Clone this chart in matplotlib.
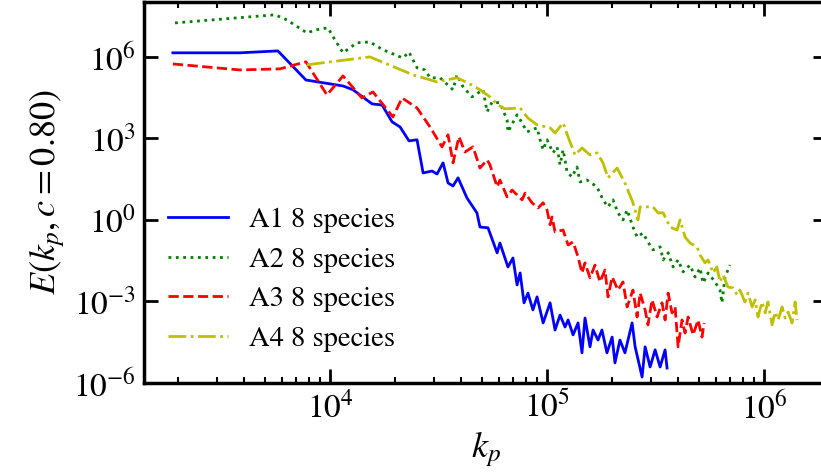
import numpy as np
import matplotlib
matplotlib.use("Agg")
import matplotlib.pyplot as plt
from matplotlib.ticker import NullLocator

# =========================================================
# DATA (log10 values)
# =========================================================

a1_logk = [3.276, 3.585, 3.760, 3.889, 4.060, 4.106, 4.194, 4.240, 4.286, 4.323,
           4.364, 4.401, 4.429, 4.470, 4.493, 4.521, 4.544, 4.567, 4.590, 4.631,
           4.677, 4.691, 4.728, 4.770, 4.783, 4.820, 4.843, 4.862, 4.876, 4.894,
           4.912, 4.935, 4.954, 4.982, 5.014, 5.037, 5.060, 5.083, 5.097, 5.120,
           5.143, 5.161, 5.175, 5.198, 5.212, 5.235, 5.253, 5.276, 5.300, 5.313,
           5.336, 5.359, 5.392, 5.406, 5.438, 5.452, 5.475, 5.498, 5.521, 5.544,
           5.553]
a1_logE = [6.15, 6.15, 6.22, 5.15, 4.93, 4.79, 4.27, 4.23, 3.61, 3.42,
           2.91, 2.95, 1.73, 1.80, 1.69, 2.10, 1.36, 1.25, 1.55, 0.81,
           0.26, -0.26, -0.29, -1.21, -0.85, -1.73, -1.40, -2.39, -1.95, -3.05,
           -2.69, -3.31, -2.83, -3.79, -3.05, -4.05, -3.50, -3.94, -3.68, -4.23,
           -3.79, -4.89, -3.61, -4.67, -4.05, -4.42, -4.05, -4.89, -4.31, -5.26,
           -4.42, -4.89, -3.79, -4.67, -5.78, -4.67, -5.41, -4.78, -5.41, -4.78,
           -5.45]

a2_logk = [3.286, 3.747, 3.802, 3.894, 3.931, 3.991, 4.014, 4.060, 4.124, 4.184,
           4.244, 4.336, 4.364, 4.401, 4.438, 4.461, 4.507, 4.567, 4.585, 4.613,
           4.654, 4.705, 4.724, 4.747, 4.783, 4.816, 4.820, 4.862, 4.885, 4.908,
           4.954, 4.968, 4.982, 5.000, 5.028, 5.046, 5.060, 5.074, 5.083, 5.092,
           5.115, 5.138, 5.152, 5.184, 5.230, 5.258, 5.281, 5.304, 5.327, 5.350,
           5.369, 5.396, 5.415, 5.442, 5.465, 5.488, 5.521, 5.535, 5.558, 5.581,
           5.604, 5.627, 5.659, 5.682, 5.705, 5.719, 5.742, 5.774, 5.797, 5.806,
           5.820, 5.843]
a2_logE = [7.25, 7.55, 7.36, 6.88, 6.99, 7.07, 6.74, 6.15, 6.52, 6.55,
           6.26, 5.96, 6.18, 5.60, 5.52, 5.23, 5.23, 4.79, 5.34, 4.90,
           4.53, 4.79, 3.98, 4.34, 4.31, 3.68, 3.24, 3.87, 3.57, 3.24,
           3.39, 2.95, 2.58, 2.95, 2.47, 2.69, 2.03, 2.58, 2.21, 1.77,
           1.58, 1.95, 1.40, 1.47, 1.22, 0.74, 0.48, 0.74, 0.26, 0.00,
           0.37, -0.26, -0.63, -0.48, -0.81, -1.10, -0.99, -1.47, -1.21, -1.73,
           -1.47, -1.91, -1.66, -2.10, -1.77, -2.32, -1.95, -2.28, -2.58, -3.05,
           -2.10, -1.66]

a3_logk = [3.276, 3.585, 3.770, 3.889, 3.986, 4.060, 4.147, 4.198, 4.290, 4.332,
           4.401, 4.461, 4.516, 4.544, 4.567, 4.594, 4.622, 4.659, 4.691, 4.724,
           4.737, 4.770, 4.783, 4.816, 4.839, 4.885, 4.899, 4.931, 4.959, 4.982,
           5.000, 5.014, 5.023, 5.037, 5.074, 5.097, 5.120, 5.143, 5.161, 5.175,
           5.198, 5.221, 5.244, 5.267, 5.281, 5.300, 5.327, 5.350, 5.369, 5.396,
           5.415, 5.429, 5.452, 5.465, 5.484, 5.507, 5.530, 5.544, 5.558, 5.576,
           5.590, 5.604, 5.622, 5.636, 5.650, 5.673, 5.696, 5.714, 5.724]
a3_logE = [5.74, 5.52, 5.56, 5.82, 4.60, 5.30, 4.49, 4.71, 3.79, 4.49,
           4.12, 3.42, 2.69, 3.13, 2.10, 3.06, 2.50, 2.69, 1.91, 2.21,
           2.03, 1.22, 1.47, 0.85, 1.10, 0.74, 0.99, 0.63, 0.44, 0.63,
           0.37, -0.18, 0.11, -0.44, -0.37, -0.92, -0.81, -1.36, -1.95, -1.58,
           -2.13, -1.66, -2.28, -1.84, -2.83, -2.10, -2.58, -2.28, -3.20, -2.58,
           -3.57, -2.69, -3.31, -3.86, -2.94, -3.57, -3.05, -3.68, -2.69, -3.42,
           -3.20, -4.67, -3.68, -4.16, -3.57, -4.23, -3.68, -4.31, -3.79]

a4_logk = [3.894, 4.184, 4.382, 4.493, 4.585, 4.636, 4.691, 4.737, 4.774, 4.806,
           4.876, 4.912, 4.954, 5.014, 5.037, 5.074, 5.097, 5.129, 5.161, 5.198,
           5.230, 5.258, 5.281, 5.323, 5.359, 5.396, 5.419, 5.429, 5.488, 5.512,
           5.535, 5.567, 5.599, 5.613, 5.636, 5.659, 5.691, 5.705, 5.728, 5.742,
           5.765, 5.783, 5.797, 5.811, 5.834, 5.857, 5.876, 5.889, 5.912, 5.926,
           5.945, 5.959, 5.972, 5.991, 6.005, 6.018, 6.037, 6.051, 6.065, 6.083,
           6.097, 6.111, 6.129, 6.143, 6.152]
a4_logE = [5.71, 6.00, 5.34, 5.08, 5.23, 5.04, 4.79, 4.53, 4.23, 4.09,
           4.12, 3.75, 3.50, 3.39, 3.20, 3.57, 3.06, 2.39, 2.65, 2.39,
           2.47, 2.10, 1.55, 1.91, 1.36, 0.63, 0.00, 0.48, 0.48, 0.26,
           0.26, -0.26, -0.37, 0.00, -0.63, -0.85, -0.99, -1.29, -1.58, -1.47,
           -1.95, -1.73, -2.28, -2.02, -2.47, -2.50, -2.76, -2.58, -3.02, -2.69,
           -3.20, -2.94, -3.57, -3.02, -3.42, -3.02, -3.86, -3.39, -3.68, -3.20,
           -3.61, -3.39, -3.79, -3.02, -3.68]

labels = ["A1 8 species", "A2 8 species", "A3 8 species", "A4 8 species"]

# =========================================================
# STYLE
# =========================================================

plt.rcParams['font.family'] = ['STIXGeneral', 'DejaVu Serif']
plt.rcParams['mathtext.fontset'] = 'stix'

fig = plt.figure(figsize=(8.21, 4.72), dpi=100)
ax = fig.add_axes([144 / 821, 89 / 472, 683 / 821, 381 / 472])

# =========================================================
# PLOT
# =========================================================

series = [
    (a1_logk, a1_logE, 'b', '-'),
    (a2_logk, a2_logE, 'g', ':'),
    (a3_logk, a3_logE, 'r', '--'),
    (a4_logk, a4_logE, 'y', '-.'),
]

for (lk, le, col, ls), lab in zip(series, labels):
    ax.plot(10 ** np.array(lk), 10 ** np.array(le),
            color=col, linestyle=ls, linewidth=2, label=lab)

ax.set_xscale('log')
ax.set_yscale('log')
ax.set_xlim(10 ** 3.143, 10 ** 6.290)
ax.set_ylim(1e-6, 10 ** 8.02)

ax.set_yticks([1e-6, 1e-3, 1e0, 1e3, 1e6])
ax.yaxis.set_minor_locator(NullLocator())

ax.tick_params(which='both', direction='in', top=True, right=True,
               labelsize=24)
ax.tick_params(which='major', length=10, width=2, pad=6)
ax.tick_params(which='minor', length=4, width=1.5)

for sp in ax.spines.values():
    sp.set_linewidth(2.5)

ax.set_xlabel(r"$k_p$", fontsize=26, labelpad=2)
ax.set_ylabel(r"$E(k_p,c=0.80)$", fontsize=26, labelpad=4)

ax.legend(loc='center left', bbox_to_anchor=(0.035, 0.272),
          frameon=False, fontsize=20.5, borderpad=0, borderaxespad=0,
          handlelength=2.1, handletextpad=0.75, labelspacing=0.48)

fig.savefig("out.png", dpi=100)
